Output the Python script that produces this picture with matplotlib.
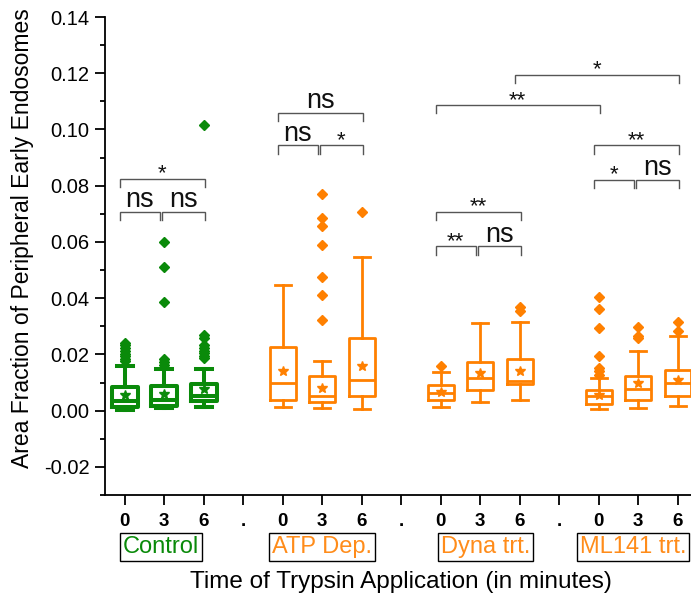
import matplotlib
matplotlib.use("Agg")
import matplotlib.pyplot as plt
from matplotlib.ticker import MultipleLocator, FormatStrFormatter
from matplotlib.transforms import blended_transform_factory, offset_copy

plt.rcParams['font.family'] = ['Liberation Sans', 'DejaVu Sans']
plt.rcParams['axes.unicode_minus'] = False

# ---------------- data ----------------
groups = ["Control", "ATP Dep.", "Dyna trt.", "ML141 trt."]
times = ["0", "3", "6"]
group_colors = ["#0A8A0A", "#FF8000", "#FF8000", "#FF8000"]

q1 = [0.0014, 0.0018, 0.0033, 0.0039, 0.0030, 0.0051, 0.0039, 0.0075, 0.0095, 0.0025, 0.0039, 0.0053]
med = [0.0033, 0.0039, 0.0051, 0.0098, 0.0053, 0.0108, 0.0063, 0.0116, 0.0104, 0.0051, 0.0078, 0.0098]
q3 = [0.0083, 0.0086, 0.0096, 0.0225, 0.0122, 0.0260, 0.0092, 0.0172, 0.0184, 0.0072, 0.0122, 0.0143]
means = [0.0057, 0.0060, 0.0078, 0.0140, 0.0081, 0.0160, 0.0067, 0.0135, 0.0142, 0.0055, 0.0099, 0.0110]
whislo = [0.0004, 0.0010, 0.0014, 0.0013, 0.0010, 0.0007, 0.0012, 0.0030, 0.0039, 0.0006, 0.0010, 0.0015]
whishi = [0.0160, 0.0149, 0.0149, 0.0448, 0.0178, 0.0548, 0.0136, 0.0312, 0.0314, 0.0116, 0.0213, 0.0264]
fliers = [
    [0.0175, 0.0185, 0.0195, 0.0203, 0.0212, 0.0222, 0.0232, 0.0240],
    [0.0163, 0.0172, 0.0182, 0.0388, 0.0512, 0.0601],
    [0.0188, 0.0196, 0.0205, 0.0213, 0.0222, 0.0232, 0.0258, 0.0268, 0.1015],
    [],
    [0.0323, 0.0412, 0.0477, 0.0590, 0.0655, 0.0686, 0.0770],
    [0.0708],
    [0.0160],
    [],
    [0.0353, 0.0368],
    [0.0128, 0.0140, 0.0152, 0.0195, 0.0294, 0.0361, 0.0404],
    [0.0258, 0.0267, 0.0297],
    [0.0282, 0.0317],
]

# significance brackets: (box index a, box index b, height, label)
brackets = [
    (0, 2, 0.0824, "*"), (0, 1, 0.0708, "ns"), (1, 2, 0.0708, "ns"),
    (3, 5, 0.1060, "ns"), (3, 4, 0.0943, "ns"), (4, 5, 0.0943, "*"),
    (6, 8, 0.0708, "**"), (6, 7, 0.0584, "**"), (7, 8, 0.0584, "ns"),
    (9, 11, 0.0943, "**"), (9, 10, 0.0821, "*"), (10, 11, 0.0821, "ns"),
    (6, 9, 0.1087, "**"), (8, 11, 0.1194, "*"),
]

xlabel = "Time of Trypsin Application (in minutes)"
ylabel = "Area Fraction of Peripheral Early Endosomes"

# ---------------- figure ----------------
W, H = 691, 606
fig = plt.figure(figsize=(W / 100, H / 100), dpi=100)
ax = fig.add_axes([105 / W, (H - 495) / H, 592.5 / W, (495 - 17) / H])


def pos_of(i):
    g, t = divmod(i, 3)
    return 1 + g * 4 + t


for g in range(4):
    col = group_colors[g]
    lw = 2.9 if g == 0 else 2.0
    stats = []
    positions = []
    for t in range(3):
        i = g * 3 + t
        stats.append(dict(q1=q1[i], med=med[i], q3=q3[i], mean=means[i],
                          whislo=whislo[i], whishi=whishi[i], fliers=fliers[i]))
        positions.append(pos_of(i))
    ax.bxp(stats, positions=positions, widths=0.66, capwidths=0.4,
           showmeans=True, meanline=False, patch_artist=False,
           boxprops=dict(color=col, linewidth=lw),
           whiskerprops=dict(color=col, linewidth=lw),
           capprops=dict(color=col, linewidth=lw),
           medianprops=dict(color=col, linewidth=lw),
           meanprops=dict(marker="*", markerfacecolor=col, markeredgecolor=col, markersize=7),
           flierprops=dict(marker="D", markerfacecolor=col, markeredgecolor=col, markersize=5))

ax.set_xlim(0.5, 15.5)
ax.set_ylim(-0.03, 0.14)

# spines / ticks
for s in ["top", "right"]:
    ax.spines[s].set_visible(False)
for s in ["left", "bottom"]:
    ax.spines[s].set_linewidth(1.3)
    ax.spines[s].set_color("black")

ax.yaxis.set_major_locator(MultipleLocator(0.02))
ax.yaxis.set_minor_locator(MultipleLocator(0.01))
ax.yaxis.set_major_formatter(FormatStrFormatter("%.2f"))
ax.tick_params(axis="y", which="major", direction="out", length=7, width=1.3, labelsize=14.5, pad=4)
ax.tick_params(axis="y", which="minor", direction="out", length=3.5, width=1.3)

xt = list(range(1, 16))
xtl = ["." if p % 4 == 0 else times[(p - 1) % 4] for p in xt]
ax.set_xticks(xt)
ax.set_xticklabels(xtl, fontweight="bold", fontsize=13.5)
ax.tick_params(axis="x", which="major", direction="out", length=7, width=1.3, pad=6)

# brackets
bcol = "#555555"
tip = 0.003
for a, b, y, lab in brackets:
    x1 = pos_of(a) - 0.12
    x2 = pos_of(b) + 0.02
    if a % 3 == 1:
        x1 = pos_of(a) - 0.06
    if b % 3 == 1 and a % 3 == 0:
        x2 = pos_of(b) - 0.12
    ax.plot([x1, x1, x2, x2], [y - tip, y, y, y - tip], color=bcol, lw=1.0,
            solid_joinstyle="miter", clip_on=False)
    xm = (x1 + x2) / 2
    if lab == "ns":
        ax.annotate(lab, (xm, y), xytext=(0, 3.5), textcoords="offset points",
                    ha="center", va="baseline", fontsize=19.5, color="#111111")
    else:
        ax.annotate(lab, (xm, y), xytext=(0, -0.5), textcoords="offset points",
                    ha="center", va="baseline", fontsize=16, color="#111111")

# group labels (small horizontal nudges in pixels to match the reference layout)
label_nudge_px = [-3, 0, 5, -5]
tr = blended_transform_factory(ax.transData, fig.transFigure)
for g, name in enumerate(groups):
    t_off = offset_copy(tr, fig=fig, x=label_nudge_px[g] * 72 / 100, y=0, units="points")
    ax.text(pos_of(g * 3 + 1), 1 - 547 / H, name, transform=t_off, ha="center", va="center",
            fontsize=17, color=group_colors[g] if g == 0 else "#FF8C1A",
            bbox=dict(boxstyle="square,pad=0.12", fc="white", ec="black", lw=1.0),
            clip_on=False)

fig.text(401 / W, 1 - 582 / H, xlabel, ha="center", va="center", fontsize=17.5)
fig.text(23 / W, 1 - 238 / H, ylabel, ha="center", va="center", rotation=90, fontsize=16.5)

fig.savefig("out.png", dpi=100)
